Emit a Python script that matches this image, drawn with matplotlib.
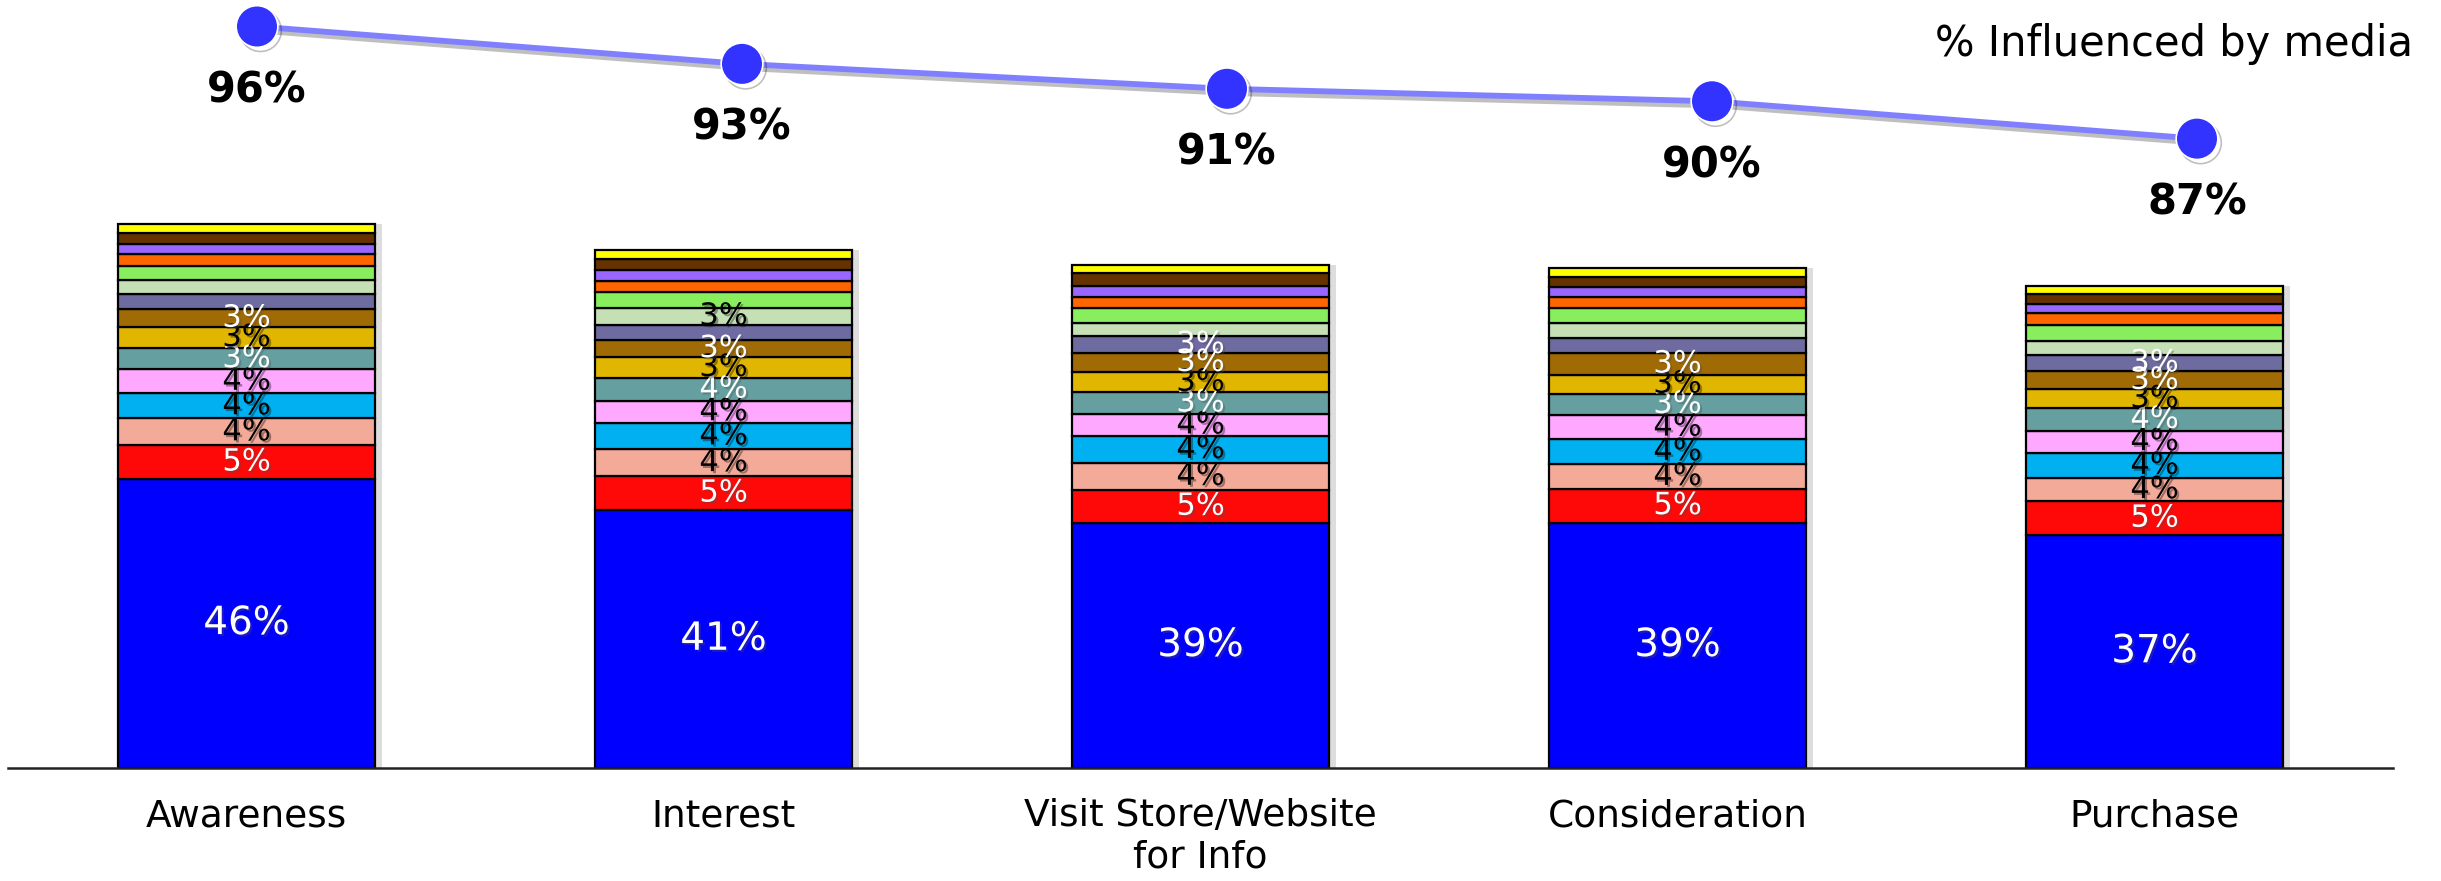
import numpy as np
import matplotlib
matplotlib.use("Agg")
import matplotlib.pyplot as plt
import matplotlib.patheffects as pe

plt.rcParams['font.family'] = ['DejaVu Sans']

categories = ["Awareness", "Interest", "Visit Store/Website\nfor Info", "Consideration", "Purchase"]
influenced = [96, 93, 91, 90, 87]

# media shares per stage, bottom segment first
awareness = [46, 5.3, 4.3, 4.0, 3.8, 3.4, 3.3, 2.9, 2.4, 2.3, 2.2, 1.8, 1.7, 1.7, 1.4]
interest = [41, 5.4, 4.3, 4.2, 3.5, 3.7, 3.2, 2.8, 2.4, 2.7, 2.45, 1.8, 1.75, 1.75, 1.4]
visit_store = [39, 5.2, 4.35, 4.2, 3.6, 3.4, 3.2, 3.1, 2.6, 2.1, 2.4, 1.75, 1.7, 2.2, 1.2]
consideration = [39, 5.4, 3.9, 4.0, 3.8, 3.45, 3.0, 3.4, 2.4, 2.4, 2.45, 1.7, 1.65, 1.6, 1.4]
purchase = [37, 5.4, 3.7, 4.0, 3.55, 3.55, 3.0, 2.9, 2.65, 2.2, 2.45, 1.9, 1.55, 1.6, 1.3]

seg_colors = ['#0000FF', '#FF0808', '#F4AA98', '#00B0F0', '#FFA8FF', '#669F9F', '#E1B600',
              '#A06A05', '#6D6BA0', '#C4E0B4', '#88EE5E', '#FF6600', '#9966FF', '#663300', '#FFFF00']
text_colors = ['white', 'white', 'black', 'black', 'black', 'white', 'black',
               'white', 'white', 'black', 'black', 'black', 'black', 'white', 'black']

data = np.array([awareness, interest, visit_store, consideration, purchase]).T
x = np.arange(len(categories))

W, H = 2441, 881
fig = plt.figure(figsize=(W / 100, H / 100), dpi=100)
rect = [8 / W, 1 - 767.5 / H, (2393 - 8) / W, 767.5 / H]
ax = fig.add_axes(rect)
ax2 = fig.add_axes(rect, facecolor='none')

bar_shadow = [pe.SimplePatchShadow(offset=(5, 0), shadow_rgbFace='#909090', alpha=0.3), pe.Normal()]
txt_shadow = [pe.SimplePatchShadow(offset=(1.5, -1.5), alpha=0.35), pe.Normal()]

bottom = np.zeros(len(categories))
for i, row in enumerate(data):
    ax.bar(x, row, bottom=bottom, width=0.54, color=seg_colors[i], edgecolor='black',
           linewidth=1.6, zorder=2, path_effects=bar_shadow)
    for j, v in enumerate(row):
        if round(v) >= 3:
            fs = 28 if i == 0 else 22
            t = ax.text(x[j], bottom[j] + v / 2, f"{round(v)}%", ha='center', va='center',
                        fontsize=fs, color=text_colors[i], zorder=3)
            t.set_path_effects(txt_shadow)
    bottom += row

ax.set_xlim(-0.5, 4.5)
ax.set_ylim(0, 767.5 / 6.28)
ax.set_xticks(x)
ax.set_xticklabels(categories, fontsize=27)
ax.tick_params(axis='x', length=0, pad=22)
ax.set_yticks([])
for s in ['top', 'left', 'right']:
    ax.spines[s].set_visible(False)
ax.spines['bottom'].set_linewidth(1.8)
ax.spines['bottom'].set_color('#222222')

# line of % influenced on its own scale
ax2.plot(x, influenced, color='#8080FF', linewidth=4.2, marker='o', markersize=30,
         markerfacecolor='#3333FF', markeredgecolor='white', markeredgewidth=1.2, zorder=4,
         path_effects=[pe.SimpleLineShadow(offset=(2.5, -3), alpha=0.25), pe.Normal()])
for j, v in enumerate(influenced):
    ax2.annotate(f"{v}%", (x[j], v), xytext=(0, -46), textcoords='offset points',
                 ha='center', va='center', fontsize=30, fontweight='bold', color='black')
ax2.set_xlim(-(257 - 8) / 485, (2393 - 257) / 485)
ax2.set_ylim(96 - (767.5 - 26.5) / 12.46, 96 + 26.5 / 12.46)
ax2.axis('off')

fig.text(2413 / W, 1 - 44 / H, "% Influenced by media", ha='right', va='center', fontsize=30)

fig.savefig("out.png", dpi=100)
